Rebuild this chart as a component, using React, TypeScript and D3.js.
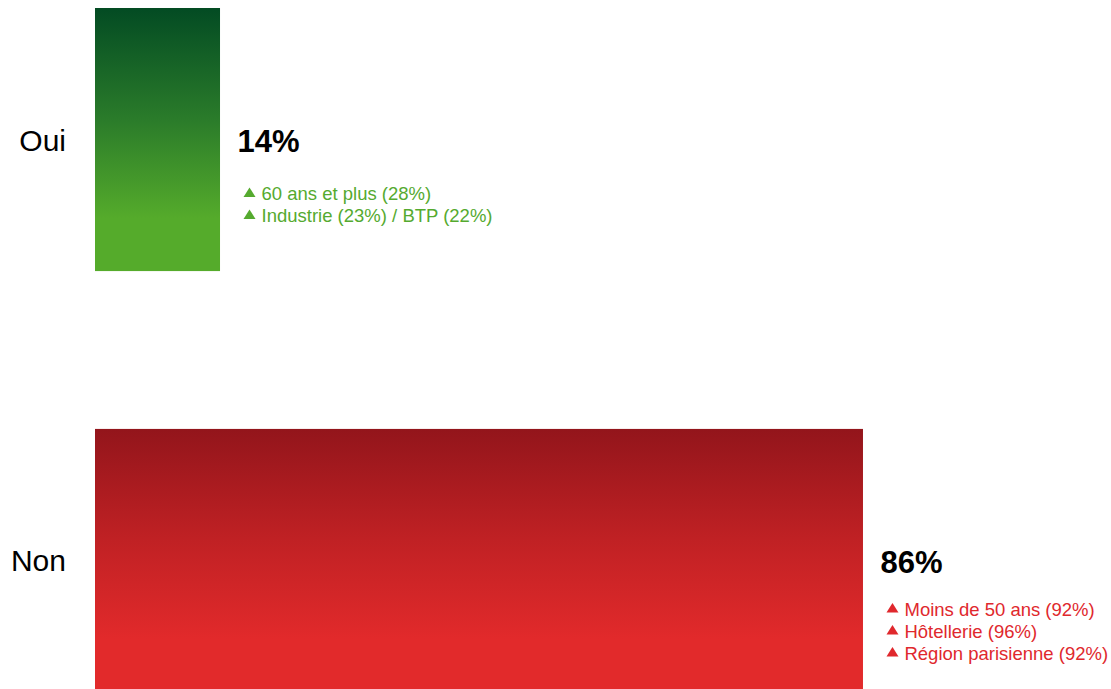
import React from "react";
import * as d3 from "d3";

const categories = ["Oui", "Non"];
const values = [14, 86];
const valueLabels = ["14%", "86%"];
const details = [
  ["60 ans et plus (28%)", "Industrie (23%) / BTP (22%)"],
  ["Moins de 50 ans (92%)", "Hôtellerie (96%)", "Région parisienne (92%)"],
];
const palette = [
  { dark: "#034b23", mid: "#2a7b2a", light: "#55ab2b", text: "#55aa2f" },
  { dark: "#93151b", mid: "#c02124", light: "#e22a2b", text: "#e0282d" },
];

const W = 1111;
const H = 689;
const FONT = "'Liberation Sans', Arial, sans-serif";

export default function App() {
  const x = d3.scaleLinear().domain([0, 100]).range([95, 95 + 893]);
  const y = d3
    .scaleBand<string>()
    .domain(categories)
    .range([8, 692])
    .paddingInner(0.375)
    .paddingOuter(0);
  const bw = y.bandwidth();

  return (
    <svg
      width={W}
      height={H}
      style={{ position: "absolute", left: 0, top: 0, background: "#fff" }}
      fontFamily={FONT}
    >
      <defs>
        {palette.map((p, i) => (
          <linearGradient key={i} id={`g${i}`} x1="0" y1="0" x2="0" y2="1">
            <stop offset="0" stopColor={p.dark} />
            <stop offset="0.42" stopColor={p.mid} />
            <stop offset="0.8" stopColor={p.light} />
            <stop offset="1" stopColor={p.light} />
          </linearGradient>
        ))}
      </defs>
      {categories.map((c, i) => {
        const y0 = y(c)!;
        const cy = y0 + bw / 2;
        const x1 = x(values[i]);
        const vx = x1 + 17.5;
        const vBase = cy + 12.5;
        const n = details[i].length;
        const subStart = cy + 71 - 5.3 * n;
        return (
          <g key={c}>
            <rect
              x={x(0)}
              y={y0}
              width={x1 - x(0)}
              height={bw}
              fill={`url(#g${i})`}
            />
            <text
              x={66}
              y={cy + 11}
              textAnchor="end"
              fontSize={30}
              fill="#000"
            >
              {c}
            </text>
            <text x={vx} y={vBase} fontSize={31} fontWeight="bold" fill="#000">
              {valueLabels[i]}
            </text>
            {details[i].map((d, j) => {
              const by = subStart + j * 22;
              const tx = vx + 6;
              return (
                <g key={j}>
                  <path
                    d={`M${tx},${by - 3} L${tx + 12},${by - 3} L${tx + 6},${by - 12.5} Z`}
                    fill={palette[i].text}
                  />
                  <text x={vx + 24} y={by} fontSize={18.5} fill={palette[i].text}>
                    {d}
                  </text>
                </g>
              );
            })}
          </g>
        );
      })}
    </svg>
  );
}
